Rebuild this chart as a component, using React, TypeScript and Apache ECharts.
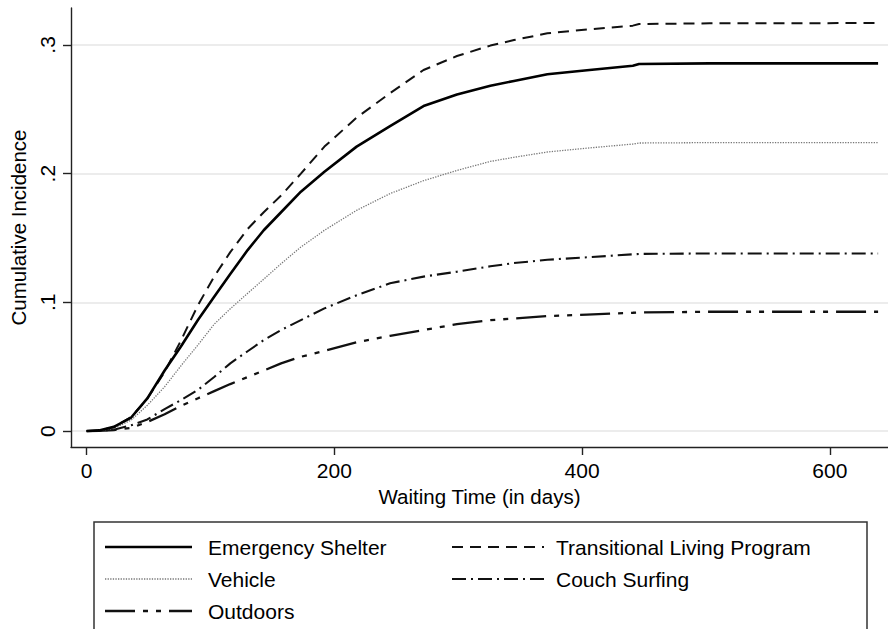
import React, { useEffect, useRef } from "react";
import * as echarts from "echarts";

const FONT = '"Liberation Sans", Arial, Helvetica, sans-serif';

// Waiting time (days) at which the curves were read
const times = [0, 10, 22, 36, 49, 63, 76, 90, 103, 116, 130, 143, 157, 173, 192, 218, 245, 272, 299, 326, 345, 372, 404, 441, 446, 503, 639];

const emergencyShelter = [0, 0.0005, 0.0033, 0.0105, 0.0254, 0.047, 0.0655, 0.0865, 0.1044, 0.122, 0.1406, 0.156, 0.17, 0.186, 0.2015, 0.221, 0.237, 0.2525, 0.2615, 0.2683, 0.272, 0.2772, 0.2803, 0.2838, 0.2852, 0.2857, 0.2857];
const transitionalLiving = [0, 0.0005, 0.003, 0.011, 0.025, 0.046, 0.07, 0.098, 0.12, 0.139, 0.157, 0.17, 0.183, 0.2, 0.221, 0.2435, 0.2625, 0.2805, 0.2914, 0.2995, 0.3038, 0.309, 0.312, 0.315, 0.3162, 0.3168, 0.317];
const vehicle = [0, 0.0003, 0.002, 0.0085, 0.02, 0.0344, 0.0505, 0.067, 0.083, 0.095, 0.107, 0.118, 0.13, 0.143, 0.156, 0.1715, 0.1845, 0.1945, 0.2025, 0.2095, 0.2127, 0.2168, 0.2198, 0.223, 0.2238, 0.2241, 0.2241];
const couchSurfing = [0, 0.0002, 0.001, 0.0045, 0.009, 0.017, 0.024, 0.032, 0.042, 0.0526, 0.062, 0.0707, 0.0785, 0.0862, 0.0953, 0.1055, 0.1148, 0.12, 0.1238, 0.128, 0.1305, 0.1331, 0.135, 0.1373, 0.1376, 0.138, 0.138];
const outdoors = [0, 0.0001, 0.0008, 0.0025, 0.007, 0.013, 0.0195, 0.0255, 0.031, 0.0365, 0.042, 0.047, 0.0526, 0.0577, 0.0623, 0.069, 0.074, 0.0785, 0.0831, 0.0862, 0.0874, 0.0893, 0.0905, 0.0919, 0.0921, 0.0927, 0.0927];

const xTicks = [0, 200, 400, 600];
const yTicks = [0, 0.1, 0.2, 0.3];

const seriesNames = ["Emergency Shelter", "Transitional Living Program", "Vehicle", "Couch Surfing", "Outdoors"];

const styles: Record<string, { color: string; width: number; dash: any }> = {
  "Emergency Shelter": { color: "#000", width: 2.6, dash: "solid" },
  "Transitional Living Program": { color: "#111", width: 2, dash: [11, 7] },
  "Vehicle": { color: "#777", width: 1.3, dash: [1.3, 1.3] },
  "Couch Surfing": { color: "#111", width: 2.1, dash: [14, 5, 2, 5] },
  "Outdoors": { color: "#111", width: 2.3, dash: [30, 8, 5, 8, 5, 8] },
};

const seriesValues = [emergencyShelter, transitionalLiving, vehicle, couchSurfing, outdoors];

export default function App() {
  const ref = useRef<HTMLDivElement>(null);
  useEffect(() => {
    if (!ref.current) return;
    const chart = echarts.init(ref.current, null, { renderer: "svg" });

    const series = seriesNames.map((name, i) => ({
      name,
      type: "line",
      showSymbol: false,
      symbol: "none",
      data: times.map((t, k) => [t, seriesValues[i][k]]),
      lineStyle: { color: styles[name].color, width: styles[name].width, type: styles[name].dash },
      itemStyle: { color: styles[name].color },
      z: 10 - i,
    }));

    // legend drawn as graphic (Stata-style box)
    const legendItems = [
      { name: "Emergency Shelter", sx: 105, sw: 87, tx: 208, y: 547 },
      { name: "Transitional Living Program", sx: 452, sw: 92, tx: 556, y: 547 },
      { name: "Vehicle", sx: 105, sw: 87, tx: 208, y: 579 },
      { name: "Couch Surfing", sx: 452, sw: 92, tx: 556, y: 579 },
      { name: "Outdoors", sx: 105, sw: 87, tx: 208, y: 611 },
    ];
    const graphic: any[] = [
      {
        type: "rect",
        shape: { x: 94, y: 522, width: 773, height: 140 },
        style: { fill: "none", stroke: "#333", lineWidth: 1.5 },
      },
    ];
    legendItems.forEach((it) => {
      const s = styles[it.name];
      graphic.push({
        type: "line",
        shape: { x1: it.sx, y1: it.y, x2: it.sx + it.sw, y2: it.y },
        style: { stroke: s.color, lineWidth: s.width, lineDash: s.dash === "solid" ? null : s.dash },
      });
      graphic.push({
        type: "text",
        x: it.tx,
        y: it.y,
        style: { text: it.name, font: `21px ${FONT}`, fill: "#000", align: "left", verticalAlign: "middle" },
      });
    });

    chart.setOption({
      animation: false,
      backgroundColor: "#fff",
      textStyle: { fontFamily: FONT },
      grid: { left: 70, top: 8, right: 0, bottom: 182, containLabel: false },
      xAxis: {
        type: "value",
        min: -12.6,
        max: 647,
        name: "Waiting Time (in days)",
        nameLocation: "middle",
        nameGap: 38,
        nameTextStyle: { fontSize: 20.5, color: "#000", fontFamily: FONT },
        axisLine: { show: true, onZero: false, lineStyle: { color: "#222", width: 1.4 } },
        axisTick: { show: true, length: 8, customValues: xTicks, lineStyle: { color: "#222", width: 1.4 } },
        axisLabel: { customValues: xTicks, fontSize: 21, color: "#000", margin: 13, fontFamily: FONT },
        splitLine: { show: false },
      },
      yAxis: {
        type: "value",
        min: -0.0124,
        max: 0.3287,
        name: "Cumulative Incidence",
        nameLocation: "middle",
        nameGap: 42,
        nameRotate: 90,
        nameTextStyle: { fontSize: 20.5, color: "#000", fontFamily: FONT },
        axisLine: { show: true, onZero: false, lineStyle: { color: "#222", width: 1.4 } },
        axisTick: { show: true, length: 8, customValues: yTicks, lineStyle: { color: "#222", width: 1.4 } },
        axisLabel: {
          customValues: yTicks,
          rotate: 90,
          fontSize: 21,
          color: "#000",
          margin: 13,
          fontFamily: FONT,
          formatter: (v: number) => (v === 0 ? "0" : String(Math.round(v * 10) / 10).replace(/^0/, "")),
        },
        splitLine: { show: true, lineStyle: { color: "#e6e6e6", width: 1.6 } },
      },
      series,
      graphic,
    });
    return () => chart.dispose();
  }, []);
  return (
    <div
      ref={ref}
      style={{ position: "fixed", left: 0, top: 0, width: 888, height: 629, background: "#fff" }}
    />
  );
}
